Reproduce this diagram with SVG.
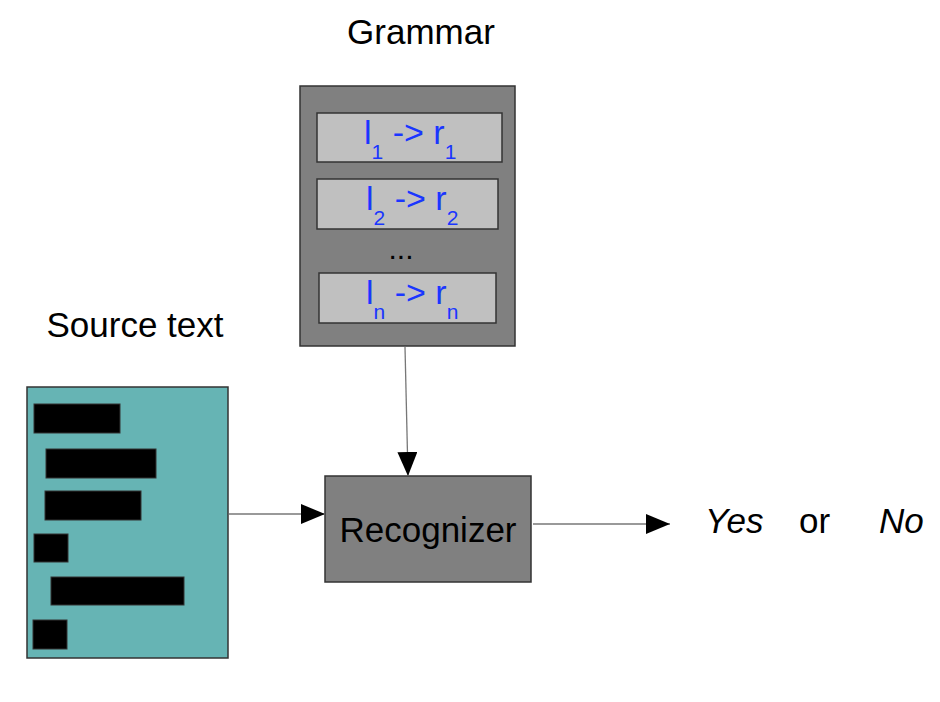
<svg xmlns="http://www.w3.org/2000/svg" width="940" height="702" viewBox="0 0 940 702">
<defs>
<style>
.lbl{font-family:"Liberation Sans",Arial,sans-serif;font-size:35px;fill:#000}
.rule{font-family:"Liberation Sans",Arial,sans-serif;font-size:34px;fill:#1a36ff}
.sub{font-size:21px}
.box{stroke:#333;stroke-width:1.5}
.bar{fill:#000;stroke:#333;stroke-width:1}
.conn{stroke:#777;stroke-width:1.3;fill:none}
</style>
<marker id="ah" viewBox="0 0 24 20" refX="24" refY="10" markerWidth="24" markerHeight="20" markerUnits="userSpaceOnUse" orient="auto">
<path d="M0,0 L24,10 L0,20 Z" fill="#000"/>
</marker>
</defs>
<rect width="940" height="702" fill="#fff"/>
<g id="grammar">
<text class="lbl" x="421" y="44" text-anchor="middle">Grammar</text>
<rect class="box" x="300" y="86" width="215" height="260" fill="#808080"/>
<g id="rule1">
<rect class="box" x="317" y="113" width="185" height="49" fill="#c0c0c0"/>
<text class="rule" x="364" y="144">l<tspan class="sub" dy="15">1</tspan><tspan dy="-15"> -&gt; r</tspan><tspan class="sub" dy="15">1</tspan></text>
</g>
<g id="rule2">
<rect class="box" x="317" y="179" width="181" height="50" fill="#c0c0c0"/>
<text class="rule" x="366" y="210">l<tspan class="sub" dy="15">2</tspan><tspan dy="-15"> -&gt; r</tspan><tspan class="sub" dy="15">2</tspan></text>
</g>
<text class="lbl" x="401" y="259" text-anchor="middle" style="font-size:30px">...</text>
<g id="rulen">
<rect class="box" x="319" y="273" width="177" height="50" fill="#c0c0c0"/>
<text class="rule" x="366" y="304">l<tspan class="sub" dy="15">n</tspan><tspan dy="-15"> -&gt; r</tspan><tspan class="sub" dy="15">n</tspan></text>
</g>
</g>
<g id="source">
<text class="lbl" x="135" y="337" text-anchor="middle">Source text</text>
<rect class="box" x="27" y="387" width="201" height="271" fill="#66b4b4"/>
<rect class="bar" x="34" y="404" width="86" height="29"/>
<rect class="bar" x="46" y="449" width="110" height="29"/>
<rect class="bar" x="45" y="491" width="96" height="29"/>
<rect class="bar" x="34" y="534" width="34" height="28"/>
<rect class="bar" x="51" y="577" width="133" height="28"/>
<rect class="bar" x="33" y="620" width="34" height="29"/>
</g>
<g id="recognizer">
<rect class="box" x="325" y="476" width="206" height="106" fill="#808080"/>
<text class="lbl" x="428" y="542" text-anchor="middle">Recognizer</text>
</g>
<g id="result">
<text class="lbl" x="705" y="533" font-style="italic">Yes</text>
<text class="lbl" x="799" y="533">or</text>
<text class="lbl" x="879" y="533" font-style="italic">No</text>
</g>
<g id="connectors">
<line class="conn" x1="405" y1="347" x2="408" y2="476" marker-end="url(#ah)"/>
<line class="conn" x1="229" y1="514" x2="325" y2="514" marker-end="url(#ah)"/>
<line class="conn" x1="533" y1="524" x2="670" y2="524" marker-end="url(#ah)"/>
</g>
</svg>
